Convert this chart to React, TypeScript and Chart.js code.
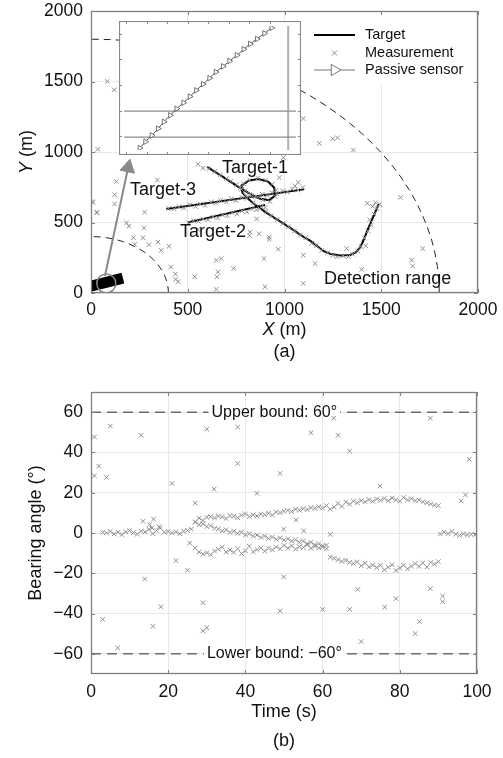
import React, { useEffect, useRef } from "react";
import { Chart, registerables } from "chart.js";

Chart.register(...registerables);

const FONT = "'Liberation Sans', Arial, Helvetica, sans-serif";
const TXT = "#111111";
const AXIS = "#7f7f7f";
const GRID = "#e8e8e8";
const MEAS = "#8e8e8e";
Chart.defaults.font.family = FONT;
Chart.defaults.color = TXT;

// ================= Panel (a): X-Y plane =================
const xTicksA = [0, 500, 1000, 1500, 2000];
const yTicksA = [0, 500, 1000, 1500, 2000];
const detectionRadii = [400, 1800];
const arcAnglesDeg = [0, 3, 6, 9, 12, 15, 18, 21, 24, 27, 30, 33, 36, 39, 42, 45, 48, 51, 54, 57, 60, 63, 66, 69, 72, 75, 78, 81, 84, 87, 90];

const target1Path = [
  [600, 895], [680, 825], [760, 755], [820, 705], [870, 670], [920, 658], [950, 690], [948, 745],
  [915, 790], [865, 808], [815, 797], [778, 762], [782, 712], [812, 668], [852, 622], [900, 575],
  [960, 522], [1030, 462], [1090, 405], [1132, 372], [1170, 332], [1200, 298], [1240, 276],
  [1290, 266], [1340, 270], [1370, 290], [1392, 325], [1410, 380], [1430, 450], [1455, 530], [1487, 630],
];
const target2Path = [[500, 500], [900, 625]];
const target3Path = [[390, 595], [1100, 735]];

const measClutterA = [
  [84, 1500], [120, 1441], [35, 1019], [4, 648], [29, 568], [131, 791], [122, 697], [122, 632], [10, 643],
  [31, 573], [343, 801], [277, 573], [183, 498], [196, 474], [274, 463], [269, 392], [300, 343], [346, 361],
  [226, 345], [219, 392], [403, 331], [363, 303], [412, 185], [436, 134], [438, 96], [450, 80], [536, 115],
  [648, 232], [673, 244], [737, 174], [656, 150], [651, 115], [648, 26], [553, 913], [579, 885], [553, 451],
  [820, 408], [1097, 1237], [1180, 1061], [1249, 1094], [1274, 1101], [1356, 1014], [994, 960], [1600, 678],
  [1714, 315], [1657, 232], [1662, 192], [1097, 68], [899, 44], [894, 244], [968, 310], [1097, 268],
  [1158, 209], [1399, 167], [921, 396], [921, 380], [868, 420], [1321, 315], [856, 526], [1054, 760],
  [1071, 784], [973, 819], [822, 432],
];
const measTrack1 = [
  [610, 882], [640, 862], [668, 838], [700, 812], [722, 792], [752, 768], [772, 745], [797, 728], [822, 700],
  [848, 682], [888, 660], [925, 648], [952, 683], [957, 728], [937, 772], [902, 800], [862, 815], [820, 802],
  [790, 775], [778, 735], [800, 690], [840, 640], [872, 598], [905, 578], [932, 545], [962, 520], [992, 492],
  [1022, 470], [1052, 440], [1082, 412], [1110, 392], [1140, 352], [1165, 338], [1192, 302], [1222, 285],
  [1250, 268], [1272, 258], [1302, 262], [1330, 258], [1352, 275], [1378, 298], [1395, 330], [1420, 335],
  [1412, 390], [1432, 440], [1448, 480], [1440, 520], [1462, 560], [1478, 600], [1455, 615], [1492, 628],
  [1470, 640], [1428, 636],
];
const measTrack2 = [
  [505, 498], [530, 512], [555, 508], [580, 525], [605, 520], [630, 540], [655, 533], [680, 553], [705, 548],
  [730, 568], [755, 560], [780, 582], [805, 576], [830, 596], [855, 590], [880, 612], [900, 606],
];
const measTrack3 = [
  [400, 600], [430, 596], [455, 612], [480, 603], [510, 625], [540, 614], [565, 632], [590, 620], [620, 646],
  [645, 638], [670, 657], [700, 645], [725, 668], [750, 655], [780, 678], [805, 670], [830, 690], [860, 680],
  [885, 700], [910, 692], [935, 712], [960, 703], [990, 725], [1015, 716], [1040, 738], [1070, 730], [1095, 748],
];
const sensorTrackA = [[-20, 42], [165, 106]];
const zoomCircle = [[79, 68]];
const zoomArrow = [[72, 120], [192, 890]];
const labelsA = [
  { text: "Target-1", x: 848, y: 887 },
  { text: "Target-3", x: 372, y: 732 },
  { text: "Target-2", x: 630, y: 432 },
  { text: "Detection range", x: 1533, y: 99 },
];

// inset (zoomed sensor trajectory), in inset units 0..100
const insetSensorU = [9.2, 12.5, 16.2, 19.9, 23.2, 26.9, 30.6, 34.6, 38.3, 42.0, 46.0, 49.7, 53.4, 57.6, 61.3, 65.6, 69.6, 73.3, 77.3, 81.6, 85.8];
const insetSensorV = [1.7, 6.8, 11.8, 17.3, 22.8, 28.0, 33.3, 38.1, 43.1, 48.1, 53.1, 57.9, 62.9, 67.4, 71.7, 76.4, 81.2, 85.5, 89.5, 94.0, 98.5];
const insetHLines = [10.5, 31.4];
const insetVLine = 95.4;
const insetTickU = [1.5, 13.4, 25.3, 37.2, 49.1, 61.0, 72.9, 84.8];
const insetTickV = [11.2, 31.1, 52.2, 73.4, 93.3];

// ================= Panel (b): bearing vs time =================
const xTicksB = [0, 20, 40, 60, 80, 100];
const yTicksB = [-60, -40, -20, 0, 20, 40, 60];
const boundsB = [60, -60];
const boundLabelT = 47.5;
const trackA = [
  [3, 0.3], [4, 0], [5, 0.8], [6, -0.5], [7, 0.4], [8, -0.8], [9, 0.6], [10, 1.2], [11, 0.2], [12, -0.6],
  [13, 0.9], [14, 0.5], [15, 1.8], [16, -0.3], [17, 1.2], [18, 2.5], [19, 0.4], [20, 0.8], [21, 0.1],
  [22, 0.6], [23, -0.4], [24, 0.9], [25, 1.3], [26, 1.9], [13.5, 5.8], [15.2, 4.2], [16.2, 6.9], [15.8, 2.5], [17.6, 3.1],
];
const trackU = [
  [27, 5.5], [28, 7.4], [29, 6.2], [30, 7.8], [31, 8.1], [32, 7.5], [33, 8.4], [34, 8.0], [35, 7.2], [36, 8.6],
  [37, 8.3], [38, 7.6], [39, 8.8], [40, 9.5], [41, 8.2], [42, 9.0], [43, 8.4], [44, 9.4], [45, 9.1], [46, 9.8],
  [47, 9.0], [48, 10.4], [49, 10.1], [50, 10.8], [51, 11.2], [52, 10.6], [53, 11.8], [54, 11.3], [55, 12.1],
  [56, 11.6], [57, 12.6], [58, 12.2], [59, 13.0], [60, 12.4], [61, 13.6], [62, 11.8], [63, 12.9], [64, 14.6],
  [65, 13.2], [66, 15.4], [67, 14.3], [68, 15.8], [69, 15.0], [70, 16.1], [71, 15.5], [72, 16.6], [73, 15.7],
  [74, 16.9], [75, 16.2], [76, 17.1], [77, 16.0], [78, 17.4], [79, 16.5], [80, 15.8], [81, 17.6], [82, 16.4],
  [83, 17.0], [84, 16.1], [85, 16.3], [86, 15.5], [87, 15.0], [88, 14.4], [89, 13.9], [90, 13.6],
];
const trackM = [
  [27, 5.4], [28, 4.1], [29, 4.6], [30, 3.2], [31, 3.6], [32, 2.3], [33, 2.0], [34, 1.1], [35, 1.6], [36, 0.3],
  [37, 0.9], [38, -0.2], [39, 0.4], [40, -0.9], [41, -0.3], [42, -1.6], [43, -1.0], [44, -2.2], [45, -1.5],
  [46, -2.7], [47, -2.0], [48, -3.1], [49, -2.4], [50, -3.5], [51, -2.9], [52, -4.0], [53, -3.3], [54, -4.6],
  [55, -4.0], [56, -5.2], [57, -4.6], [58, -5.8], [59, -5.3], [60, -6.4], [61, -6.0],
];
const trackL = [
  [27, -7.5], [28, -9.4], [29, -10.5], [30, -9.8], [31, -10.8], [32, -9.0], [33, -8.1], [34, -7.0], [35, -9.5],
  [36, -8.4], [37, -9.6], [38, -7.8], [39, -10.2], [40, -8.8], [41, -6.5], [42, -9.3], [43, -8.2], [44, -7.4],
  [45, -9.0], [46, -7.6], [47, -8.4], [48, -6.9], [49, -7.8], [50, -6.2], [51, -7.5], [52, -6.4], [53, -8.0],
  [54, -6.8], [55, -7.2], [56, -5.9], [57, -7.6], [58, -6.6], [59, -7.4], [60, -6.9], [61, -7.8], [62, -12.0],
  [63, -12.6], [64, -13.2], [65, -14.1], [66, -13.5], [67, -14.6], [68, -15.2], [69, -14.4], [70, -16.3],
  [71, -15.0], [72, -16.8], [73, -15.9], [74, -17.2], [75, -16.0], [76, -18.3], [77, -17.0], [78, -15.8],
  [79, -18.6], [80, -17.4], [81, -16.0], [82, -17.8], [83, -16.5], [84, -15.2], [85, -16.6], [86, -14.8],
  [87, -16.9], [88, -14.6], [89, -15.4], [90, -14.2],
];
const trackF = [
  [90.5, -0.5], [91.5, 0.4], [92.5, -0.3], [93.5, 0.8], [94.5, -0.6], [95.5, -1.2], [96.5, -0.4], [97.5, -1.0], [98.5, -0.7], [99.5, -0.9],
];
const clutterB = [
  [0.9, 47.7], [2.0, 33.2], [0.9, 28.4], [4.0, 27.6], [5.0, 53.1], [13.0, 48.5], [3.0, -42.9], [6.9, -57.0],
  [13.9, -22.8], [16.0, -46.3], [18.1, -36.6], [21.0, 24.6], [22.0, -13.7], [25.0, -18.5], [27.0, 14.8],
  [30.0, 51.5], [31.9, 21.8], [29.0, -34.6], [29.0, -48.6], [30.0, -47.0], [38.0, 52.6], [38.0, 34.5],
  [62.9, 57.0], [57.0, 49.8], [64.0, 48.5], [67.0, 40.6], [87.9, 57.0], [98.0, 36.6], [49.0, 29.6],
  [74.9, 23.3], [43.0, 19.7], [53.1, 6.5], [49.9, 1.9], [55.1, 1.1], [62.0, -0.7], [95.9, 15.9], [97.0, 18.9],
  [49.9, -21.8], [69.1, -28.0], [87.9, -27.6], [91.1, -31.3], [91.1, -34.1], [79.0, -32.6], [76.1, -36.8],
  [49.0, -38.7], [60.0, -37.9], [67.0, -37.9], [85.1, -44.0], [84.0, -49.9], [70.0, -53.9], [25.6, -5.0],
];

const toPts = (arr: number[][]) => arr.map(([x, y]) => ({ x, y }));

function drawMixed(ctx: CanvasRenderingContext2D, parts: [string, boolean][], cx: number, cy: number, size: number) {
  let total = 0;
  const widths = parts.map(([t, it]) => {
    ctx.font = `${it ? "italic " : ""}${size}px ${FONT}`;
    const w = ctx.measureText(t).width;
    total += w;
    return w;
  });
  let x = cx - total / 2;
  ctx.textAlign = "left";
  ctx.textBaseline = "middle";
  ctx.fillStyle = TXT;
  parts.forEach(([t, it], i) => {
    ctx.font = `${it ? "italic " : ""}${size}px ${FONT}`;
    ctx.fillText(t, x, cy);
    x += widths[i];
  });
}

function drawBoxTicks(chart: any, len: number) {
  const { ctx, chartArea: a, scales } = chart;
  const xs = scales.x, ys = scales.y;
  ctx.save();
  ctx.strokeStyle = AXIS;
  ctx.lineWidth = 1;
  ctx.beginPath();
  xs.ticks.forEach((t: any) => {
    const p = Math.round(xs.getPixelForValue(t.value)) + 0.5;
    ctx.moveTo(p, a.bottom); ctx.lineTo(p, a.bottom - len);
    ctx.moveTo(p, a.top); ctx.lineTo(p, a.top + len);
  });
  ys.ticks.forEach((t: any) => {
    const p = Math.round(ys.getPixelForValue(t.value)) + 0.5;
    ctx.moveTo(a.left, p); ctx.lineTo(a.left + len, p);
    ctx.moveTo(a.right, p); ctx.lineTo(a.right - len, p);
  });
  ctx.stroke();
  ctx.lineWidth = 1.3;
  ctx.strokeRect(Math.round(a.left) + 0.5, Math.round(a.top) + 0.5, Math.round(a.right - a.left) - 1, Math.round(a.bottom - a.top) - 1);
  ctx.restore();
}

function drawCross(ctx: CanvasRenderingContext2D, x: number, y: number, r: number) {
  ctx.beginPath();
  ctx.moveTo(x - r, y - r); ctx.lineTo(x + r, y + r);
  ctx.moveTo(x - r, y + r); ctx.lineTo(x + r, y - r);
  ctx.stroke();
}
function drawRightTri(ctx: CanvasRenderingContext2D, x: number, y: number, r: number) {
  ctx.beginPath();
  ctx.moveTo(x + r, y);
  ctx.lineTo(x - r / 2, y - r * 0.866);
  ctx.lineTo(x - r / 2, y + r * 0.866);
  ctx.closePath();
  ctx.fillStyle = "#fff";
  ctx.fill();
  ctx.stroke();
}

const minus = (v: any) => String(v).replace("-", "\u2212");

function topConfig(): any {
  const arcs = detectionRadii.map((r) =>
    arcAnglesDeg.map((d) => ({ x: r * Math.cos((d * Math.PI) / 180), y: r * Math.sin((d * Math.PI) / 180) }))
  );
  const arrowPts = toPts(zoomArrow);
  const plugin = {
    id: "panelA",
    afterDatasetsDraw(chart: any) {
      const { ctx, scales } = chart;
      ctx.save();
      ctx.fillStyle = TXT;
      ctx.font = `18px ${FONT}`;
      ctx.textAlign = "center";
      ctx.textBaseline = "middle";
      labelsA.forEach((l) => ctx.fillText(l.text, scales.x.getPixelForValue(l.x), scales.y.getPixelForValue(l.y)));
      // legend
      const a = chart.chartArea;
      const lx = a.right - 174;
      ctx.fillStyle = "#fff";
      ctx.fillRect(lx, a.top + 2, 172, 71);
      const rows = [a.top + 24, a.top + 42, a.top + 59];
      const x0 = lx + 10, x1 = lx + 51, xm = (x0 + x1) / 2, tx = lx + 61;
      ctx.strokeStyle = "#000"; ctx.lineWidth = 2;
      ctx.beginPath(); ctx.moveTo(x0, rows[0]); ctx.lineTo(x1, rows[0]); ctx.stroke();
      ctx.strokeStyle = MEAS; ctx.lineWidth = 1;
      drawCross(ctx, xm, rows[1], 2.6);
      ctx.strokeStyle = "#777"; ctx.lineWidth = 1;
      ctx.beginPath(); ctx.moveTo(x0, rows[2]); ctx.lineTo(x1, rows[2]); ctx.stroke();
      drawRightTri(ctx, xm, rows[2], 6.5);
      ctx.fillStyle = TXT;
      ctx.font = `14.5px ${FONT}`;
      ctx.textAlign = "left";
      ctx.fillText("Target", tx, rows[0]);
      ctx.fillText("Measurement", tx, rows[1]);
      ctx.fillText("Passive sensor", tx, rows[2]);
      ctx.restore();
      drawBoxTicks(chart, 4);
    },
    afterDraw(chart: any) {
      const { ctx, chartArea: a } = chart;
      ctx.save();
      const cx = (a.left + a.right) / 2;
      drawMixed(ctx, [["X", true], [" (m)", false]], cx, 330, 18);
      drawMixed(ctx, [["(a)", false]], cx, 352, 18);
      ctx.translate(27, (a.top + a.bottom) / 2);
      ctx.rotate(-Math.PI / 2);
      drawMixed(ctx, [["Y", true], [" (m)", false]], 0, 0, 18);
      ctx.restore();
    },
  };
  return {
    type: "scatter",
    data: {
      datasets: [
        { label: "Detection range", data: arcs[1], showLine: true, borderColor: "#222", borderWidth: 1, borderDash: [7, 5], pointRadius: 0, order: 10 },
        { label: "Detection range inner", data: arcs[0], showLine: true, borderColor: "#222", borderWidth: 1, borderDash: [7, 5], pointRadius: 0, order: 10 },
        { label: "Target-1", data: toPts(target1Path), showLine: true, borderColor: "#000", borderWidth: 2, pointRadius: 0, order: 9 },
        { label: "Target-2", data: toPts(target2Path), showLine: true, borderColor: "#000", borderWidth: 2, pointRadius: 0, order: 9 },
        { label: "Target-3", data: toPts(target3Path), showLine: true, borderColor: "#000", borderWidth: 2, pointRadius: 0, order: 9 },
        { label: "Measurement", data: toPts([...measClutterA, ...measTrack1, ...measTrack2, ...measTrack3]), pointStyle: "crossRot", pointRadius: 3.2, borderColor: MEAS, backgroundColor: MEAS, borderWidth: 1, order: 8 },
        { label: "Passive sensor", data: toPts(sensorTrackA), showLine: true, borderColor: "#000", borderWidth: 11, borderCapStyle: "butt", pointRadius: 0, order: 7, clip: 0 },
        { label: "Zoom", data: toPts(zoomCircle), pointStyle: "circle", pointRadius: 9.5, borderColor: "#8a8a8a", backgroundColor: "rgba(0,0,0,0)", borderWidth: 1.5, order: 6 },
        { label: "Arrow", data: arrowPts, showLine: true, borderColor: "#8a8a8a", borderWidth: 2, pointRadius: 0, order: 5 },
        { label: "Arrowhead", data: [arrowPts[1]], pointStyle: "triangle", pointRadius: 8.5, pointRotation: 12, borderColor: "#8a8a8a", backgroundColor: "#8a8a8a", borderWidth: 1, order: 4 },
      ],
    },
    options: {
      responsive: false,
      animation: false,
      events: [],
      layout: { padding: { left: 0, right: 25, top: 9, bottom: 0 } },
      plugins: { legend: { display: false }, tooltip: { enabled: false } },
      scales: {
        x: {
          type: "linear", min: 0, max: 2000,
          afterBuildTicks: (s: any) => { s.ticks = xTicksA.map((v) => ({ value: v })); },
          ticks: { font: { size: 17.5, family: FONT }, color: TXT, padding: 7, maxRotation: 0, callback: (v: any) => String(v) },
          grid: { color: GRID, drawTicks: false },
          border: { display: false },
          afterFit: (s: any) => { s.height = 77; s.paddingLeft = 0; s.paddingRight = 0; },
        },
        y: {
          type: "linear", min: 0, max: 2000,
          afterBuildTicks: (s: any) => { s.ticks = yTicksA.map((v) => ({ value: v })); },
          ticks: { font: { size: 17.5, family: FONT }, color: TXT, padding: 8, callback: (v: any) => String(v) },
          grid: { color: GRID, drawTicks: false },
          border: { display: false },
          afterFit: (s: any) => { s.width = 91; s.paddingTop = 0; s.paddingBottom = 0; },
        },
      },
    },
    plugins: [plugin],
  };
}

function insetConfig(): any {
  const sensorPts = insetSensorU.map((u, i) => ({ x: u, y: insetSensorV[i] }));
  const plugin = {
    id: "inset",
    beforeDraw(chart: any) {
      const { ctx, width, height } = chart;
      ctx.save();
      ctx.fillStyle = "#fff";
      ctx.fillRect(0, 0, width, height);
      ctx.restore();
    },
    afterDatasetsDraw(chart: any) {
      const { ctx, width, height, scales } = chart;
      ctx.save();
      ctx.strokeStyle = "#8a8a8a";
      ctx.lineWidth = 1;
      ctx.beginPath();
      insetTickU.forEach((u) => {
        const p = Math.round(scales.x.getPixelForValue(u)) + 0.5;
        ctx.moveTo(p, height); ctx.lineTo(p, height - 3);
        ctx.moveTo(p, 0); ctx.lineTo(p, 3);
      });
      insetTickV.forEach((v) => {
        const p = Math.round(scales.y.getPixelForValue(v)) + 0.5;
        ctx.moveTo(0, p); ctx.lineTo(3, p);
        ctx.moveTo(width, p); ctx.lineTo(width - 3, p);
      });
      ctx.stroke();
      ctx.lineWidth = 1.2;
      ctx.strokeRect(0.5, 0.5, width - 1, height - 1);
      ctx.restore();
    },
  };
  return {
    type: "scatter",
    data: {
      datasets: [
        { label: "Passive sensor", data: sensorPts, showLine: true, borderColor: "#555", borderWidth: 1, pointStyle: "triangle", pointRotation: 90, pointRadius: 3.2, pointBorderColor: "#666", pointBackgroundColor: "#fff", pointBorderWidth: 0.9, order: 1 },
        ...insetHLines.map((v) => ({ label: "h", data: [{ x: 0, y: v }, { x: 100, y: v }], showLine: true, borderColor: "#8c8c8c", borderWidth: 1.2, pointRadius: 0, order: 3 })),
        { label: "v", data: [{ x: insetVLine, y: 0 }, { x: insetVLine, y: 100 }], showLine: true, borderColor: "#b0b0b0", borderWidth: 2, pointRadius: 0, order: 3 },
      ],
    },
    options: {
      responsive: false,
      animation: false,
      events: [],
      layout: { padding: 0 },
      plugins: { legend: { display: false }, tooltip: { enabled: false } },
      scales: {
        x: { type: "linear", min: 0, max: 100, display: false },
        y: { type: "linear", min: 0, max: 100, display: false },
      },
    },
    plugins: [plugin],
  };
}

function bottomConfig(): any {
  const plugin = {
    id: "panelB",
    afterDatasetsDraw(chart: any) {
      const { ctx, scales } = chart;
      ctx.save();
      ctx.font = `16px ${FONT}`;
      ctx.textAlign = "center";
      ctx.textBaseline = "middle";
      boundsB.forEach((b) => {
        const txt = b > 0 ? `Upper bound: ${b}\u00B0` : `Lower bound: ${minus(b)}\u00B0`;
        const x = scales.x.getPixelForValue(boundLabelT);
        const y = scales.y.getPixelForValue(b);
        const w = ctx.measureText(txt).width;
        ctx.fillStyle = "#fff";
        ctx.fillRect(x - w / 2 - 3, y - 3, w + 6, 6);
        ctx.fillStyle = TXT;
        ctx.fillText(txt, x, y);
      });
      ctx.restore();
      drawBoxTicks(chart, 4);
    },
    afterDraw(chart: any) {
      const { ctx, chartArea: a } = chart;
      ctx.save();
      const cx = (a.left + a.right) / 2;
      drawMixed(ctx, [["Time (s)", false]], cx, 342, 18);
      drawMixed(ctx, [["(b)", false]], cx, 371, 18);
      ctx.translate(36, (a.top + a.bottom) / 2);
      ctx.rotate(-Math.PI / 2);
      drawMixed(ctx, [["Bearing angle (\u00B0)", false]], 0, 0, 18);
      ctx.restore();
    },
  };
  return {
    type: "scatter",
    data: {
      datasets: [
        { label: "Measurement", data: toPts([...trackA, ...trackU, ...trackM, ...trackL, ...trackF, ...clutterB]), pointStyle: "crossRot", pointRadius: 3.2, borderColor: MEAS, backgroundColor: MEAS, borderWidth: 1, order: 1 },
        ...boundsB.map((b) => ({ label: "bound", data: [{ x: 0, y: b }, { x: 100, y: b }], showLine: true, borderColor: "#6e6e6e", borderWidth: 1.5, borderDash: [10, 6], pointRadius: 0, order: 5 })),
      ],
    },
    options: {
      responsive: false,
      animation: false,
      events: [],
      layout: { padding: { left: 0, right: 26, top: 22, bottom: 0 } },
      plugins: { legend: { display: false }, tooltip: { enabled: false } },
      scales: {
        x: {
          type: "linear", min: 0, max: 100,
          afterBuildTicks: (s: any) => { s.ticks = xTicksB.map((v) => ({ value: v })); },
          ticks: { font: { size: 17.5, family: FONT }, color: TXT, padding: 8, maxRotation: 0, callback: (v: any) => String(v) },
          grid: { color: GRID, drawTicks: false },
          border: { display: false },
          afterFit: (s: any) => { s.height = 84; s.paddingLeft = 0; s.paddingRight = 0; },
        },
        y: {
          type: "linear", min: -70, max: 70,
          afterBuildTicks: (s: any) => { s.ticks = yTicksB.map((v) => ({ value: v })); },
          ticks: { font: { size: 17.5, family: FONT }, color: TXT, padding: 8, callback: (v: any) => minus(v) },
          grid: { color: GRID, drawTicks: false },
          border: { display: false },
          afterFit: (s: any) => { s.width = 91; s.paddingTop = 0; s.paddingBottom = 0; },
        },
      },
    },
    plugins: [plugin],
  };
}

export default function App() {
  const topRef = useRef<HTMLCanvasElement>(null);
  const insetRef = useRef<HTMLCanvasElement>(null);
  const botRef = useRef<HTMLCanvasElement>(null);
  useEffect(() => {
    const charts = [
      new Chart(topRef.current as HTMLCanvasElement, topConfig()),
      new Chart(insetRef.current as HTMLCanvasElement, insetConfig()),
      new Chart(botRef.current as HTMLCanvasElement, bottomConfig()),
    ];
    return () => charts.forEach((c) => c.destroy());
  }, []);
  return (
    <div style={{ position: "absolute", left: 0, top: 0, width: 503, height: 758, background: "#fff", overflow: "hidden" }}>
      <canvas ref={topRef} width={503} height={370} style={{ position: "absolute", left: 0, top: 0, width: 503, height: 370 }} />
      <canvas ref={insetRef} width={182} height={134} style={{ position: "absolute", left: 119, top: 21, width: 182, height: 134 }} />
      <canvas ref={botRef} width={503} height={388} style={{ position: "absolute", left: 0, top: 370, width: 503, height: 388 }} />
    </div>
  );
}
